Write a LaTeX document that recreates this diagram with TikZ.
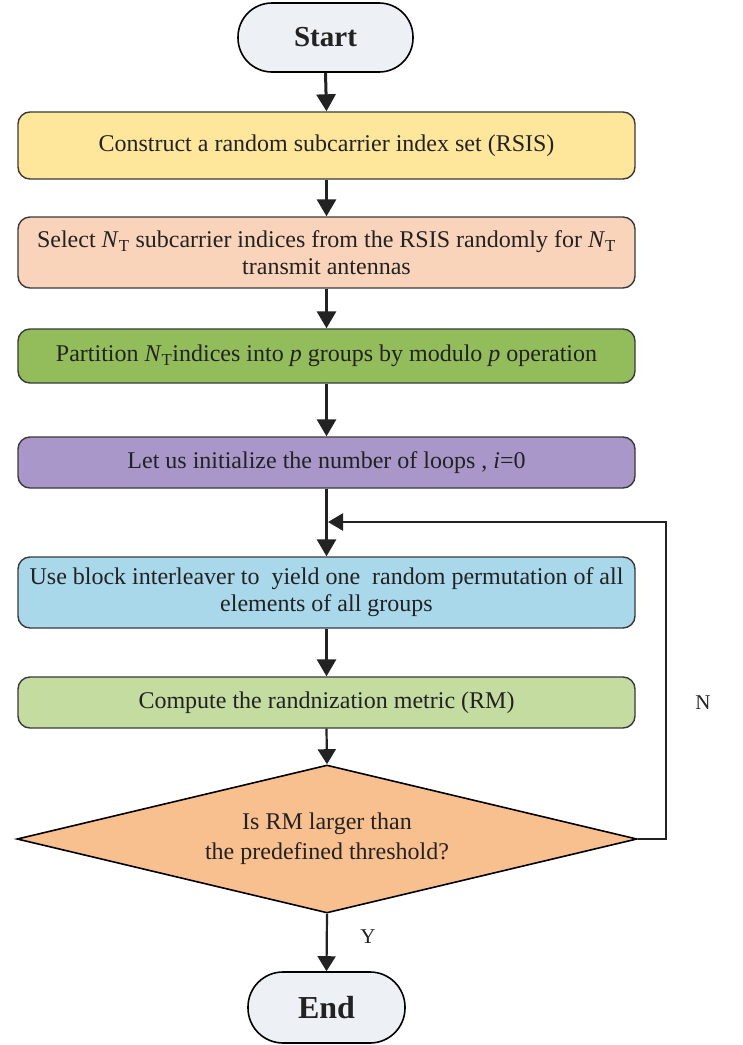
\documentclass[tikz,border=0pt]{standalone}
\usepackage{fontspec}
\setmainfont{Liberation Serif}
\usetikzlibrary{arrows.meta,shapes.geometric}

\definecolor{rim}{HTML}{3A3A3A}
\definecolor{ink}{HTML}{222222}
\definecolor{termfill}{HTML}{EDF0F5}
\definecolor{yellowfill}{HTML}{FEE69B}
\definecolor{peachfill}{HTML}{F9D3BA}
\definecolor{greenfill}{HTML}{92BD5A}
\definecolor{purplefill}{HTML}{A897C8}
\definecolor{bluefill}{HTML}{A9D8EA}
\definecolor{palegreenfill}{HTML}{C5DCA1}
\definecolor{orangefill}{HTML}{F9C08F}

\newcommand{\NT}{\textit{N}\textsubscript{T}}

\begin{document}
\begin{tikzpicture}[x=1pt,y=-1pt,
  terminal/.style={draw=black, line width=1.6pt, fill=termfill, text=ink,
    inner sep=0pt, font=\fontsize{29}{31}\selectfont\bfseries},
  process/.style={draw=rim, line width=1.4pt, rounded corners=12pt,
    minimum width=617pt, inner sep=0pt, align=center, text=ink,
    font=\fontsize{24}{27}\selectfont},
  decision/.style={diamond, aspect=4.19, draw=black, line width=1.6pt,
    fill=orangefill, minimum width=620pt, minimum height=148pt,
    inner sep=0pt, align=center, text=ink,
    font=\fontsize{24}{30}\selectfont},
  flow/.style={draw=ink, line width=3pt, -{Triangle[length=17pt,width=19pt]}},
  thinflow/.style={draw=ink, line width=2.2pt, -{Triangle[length=15pt,width=18pt]}},
  loopline/.style={draw=ink, line width=2.5pt, -{Triangle[length=15pt,width=17pt]}},
  tag/.style={text=ink, font=\fontsize{21}{24}\selectfont}
]
\useasboundingbox (0,0) rectangle (743,1045);
\fill[white] (0,0) rectangle (743,1045);

% terminals
\node[terminal, minimum width=175pt, minimum height=69pt, rounded corners=34pt]
  (start) at (325.5,37.5) {Start};
\node[terminal, minimum width=157pt, minimum height=71pt, rounded corners=35pt,
  font=\fontsize{32}{34}\selectfont\bfseries]
  (stop) at (326.5,1007.5) {End};

% process steps
\node[process, fill=yellowfill, minimum height=67pt] (b1) at (326.5,145.5)
  {Construct a random subcarrier index set (RSIS)};
\node[process, fill=peachfill, minimum height=71pt] (b2) at (326.5,252.5)
  {Select \NT{} subcarrier indices from the RSIS randomly for \NT\\transmit antennas};
\node[process, fill=greenfill, minimum height=54pt] (b3) at (326.5,356)
  {Partition \NT{}indices into \textit{p} groups by modulo \textit{p} operation};
\node[process, fill=purplefill, minimum height=51pt] (b4) at (326.5,462.5)
  {Let us initialize the number of loops , \textit{i}=0};
\node[process, fill=bluefill, minimum height=71pt] (b5) at (326.5,592.5)
  {Use block interleaver to \ yield one \ random permutation of all\\elements of all groups};
\node[process, fill=palegreenfill, minimum height=51pt] (b6) at (326.5,702.5)
  {Compute the randnization metric (RM)};

% decision
\node[decision] (dia) at (327,839)
  {Is RM larger than\\the predefined threshold?};

% connectors
\draw[flow] (start.south) -- (b1.north);
\draw[flow] (b1.south) -- (b2.north);
\draw[flow] (b2.south) -- (b3.north);
\draw[flow] (b3.south) -- (b4.north);
\draw[flow] (b4.south) -- (b5.north);
\draw[flow] (b5.south) -- (b6.north);
\draw[thinflow] (b6.south) -- (dia.north);
\draw[thinflow] (dia.south) -- (stop.north);

% loop back on "N"
\coordinate (merge) at (328,522);
\draw[loopline] (dia.east) -- ++(28,0) |- (merge);

% branch labels
\node[tag] (nlabel) at (703,703) {N};
\node[tag] (ylabel) at (368,937) {Y};
\end{tikzpicture}
\end{document}
